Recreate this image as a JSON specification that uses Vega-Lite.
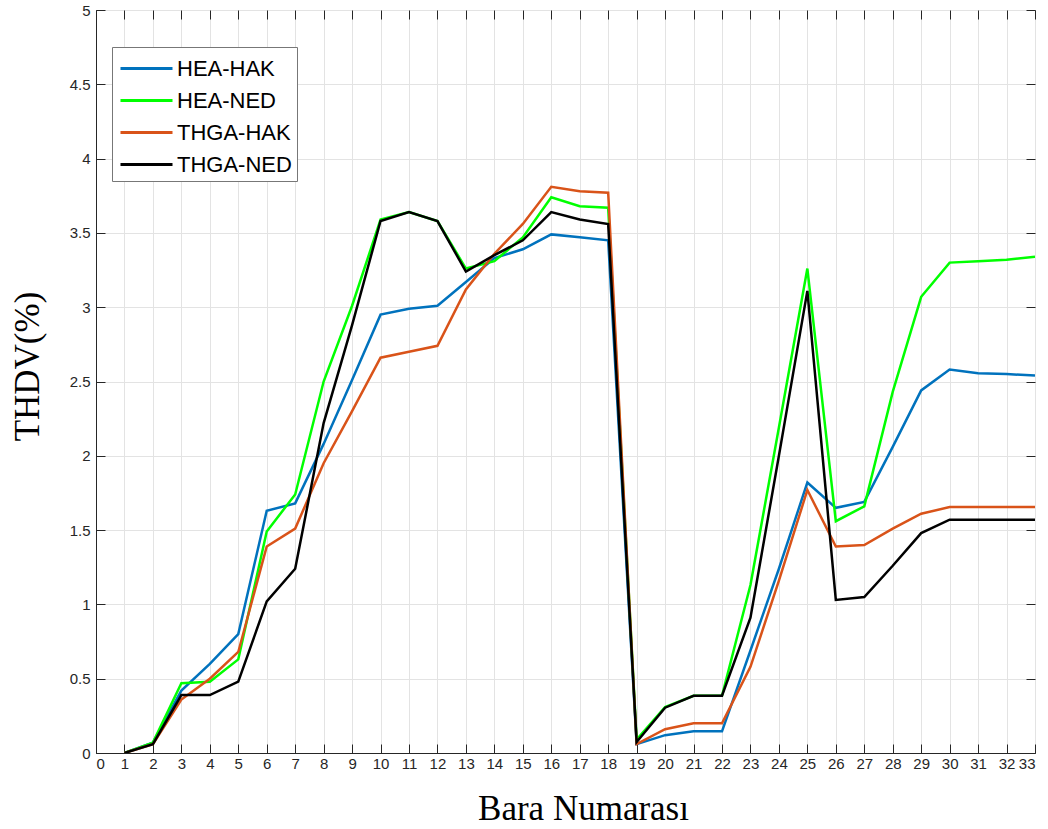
{
  "$schema": "https://vega.github.io/schema/vega-lite/v6.json",
  "width": 939,
  "height": 743,
  "autosize": "none",
  "padding": {"left": 96, "top": 10, "right": 13, "bottom": 76},
  "background": "white",
  "config": {
    "view": {"stroke": "#262626", "strokeWidth": 1},
    "axis": {
      "labelFont": "Liberation Sans",
      "labelFontSize": 15,
      "labelColor": "#262626",
      "domainColor": "#262626",
      "tickColor": "#262626",
      "gridColor": "#e3e3e3",
      "gridWidth": 1,
      "titleFont": "Liberation Serif",
      "titleFontWeight": "normal",
      "titleColor": "black",
      "titleFontSize": 35
    }
  },
  "data": {
    "values": [
      {"bara": 1, "HEA-HAK": 0, "HEA-NED": 0, "THGA-HAK": 0, "THGA-NED": 0},
      {"bara": 2, "HEA-HAK": 0.07, "HEA-NED": 0.07, "THGA-HAK": 0.06, "THGA-NED": 0.06},
      {"bara": 3, "HEA-HAK": 0.42, "HEA-NED": 0.47, "THGA-HAK": 0.36, "THGA-NED": 0.39},
      {"bara": 4, "HEA-HAK": 0.6, "HEA-NED": 0.48, "THGA-HAK": 0.5, "THGA-NED": 0.39},
      {"bara": 5, "HEA-HAK": 0.8, "HEA-NED": 0.63, "THGA-HAK": 0.68, "THGA-NED": 0.48},
      {"bara": 6, "HEA-HAK": 1.63, "HEA-NED": 1.49, "THGA-HAK": 1.39, "THGA-NED": 1.02},
      {"bara": 7, "HEA-HAK": 1.68, "HEA-NED": 1.74, "THGA-HAK": 1.51, "THGA-NED": 1.24},
      {"bara": 8, "HEA-HAK": 2.08, "HEA-NED": 2.5, "THGA-HAK": 1.95, "THGA-NED": 2.22},
      {"bara": 9, "HEA-HAK": 2.51, "HEA-NED": 3.01, "THGA-HAK": 2.3, "THGA-NED": 2.88},
      {"bara": 10, "HEA-HAK": 2.95, "HEA-NED": 3.59, "THGA-HAK": 2.66, "THGA-NED": 3.58},
      {"bara": 11, "HEA-HAK": 2.99, "HEA-NED": 3.64, "THGA-HAK": 2.7, "THGA-NED": 3.64},
      {"bara": 12, "HEA-HAK": 3.01, "HEA-NED": 3.58, "THGA-HAK": 2.74, "THGA-NED": 3.58},
      {"bara": 13, "HEA-HAK": 3.17, "HEA-NED": 3.26, "THGA-HAK": 3.12, "THGA-NED": 3.24},
      {"bara": 14, "HEA-HAK": 3.33, "HEA-NED": 3.31, "THGA-HAK": 3.36, "THGA-NED": 3.35},
      {"bara": 15, "HEA-HAK": 3.39, "HEA-NED": 3.47, "THGA-HAK": 3.56, "THGA-NED": 3.45},
      {"bara": 16, "HEA-HAK": 3.49, "HEA-NED": 3.74, "THGA-HAK": 3.81, "THGA-NED": 3.64},
      {"bara": 17, "HEA-HAK": 3.47, "HEA-NED": 3.68, "THGA-HAK": 3.78, "THGA-NED": 3.59},
      {"bara": 18, "HEA-HAK": 3.45, "HEA-NED": 3.67, "THGA-HAK": 3.77, "THGA-NED": 3.56},
      {"bara": 19, "HEA-HAK": 0.06, "HEA-NED": 0.09, "THGA-HAK": 0.06, "THGA-NED": 0.074},
      {"bara": 20, "HEA-HAK": 0.12, "HEA-NED": 0.31, "THGA-HAK": 0.16, "THGA-NED": 0.305},
      {"bara": 21, "HEA-HAK": 0.146, "HEA-NED": 0.385, "THGA-HAK": 0.2, "THGA-NED": 0.385},
      {"bara": 22, "HEA-HAK": 0.146, "HEA-NED": 0.385, "THGA-HAK": 0.2, "THGA-NED": 0.385},
      {"bara": 23, "HEA-HAK": 0.69, "HEA-NED": 1.13, "THGA-HAK": 0.58, "THGA-NED": 0.91},
      {"bara": 24, "HEA-HAK": 1.24, "HEA-NED": 2.19, "THGA-HAK": 1.16, "THGA-NED": 2.0},
      {"bara": 25, "HEA-HAK": 1.82, "HEA-NED": 3.26, "THGA-HAK": 1.77, "THGA-NED": 3.11},
      {"bara": 26, "HEA-HAK": 1.65, "HEA-NED": 1.56, "THGA-HAK": 1.39, "THGA-NED": 1.03},
      {"bara": 27, "HEA-HAK": 1.69, "HEA-NED": 1.66, "THGA-HAK": 1.4, "THGA-NED": 1.05},
      {"bara": 28, "HEA-HAK": 2.06, "HEA-NED": 2.43, "THGA-HAK": 1.51, "THGA-NED": 1.26},
      {"bara": 29, "HEA-HAK": 2.44, "HEA-NED": 3.07, "THGA-HAK": 1.61, "THGA-NED": 1.48},
      {"bara": 30, "HEA-HAK": 2.58, "HEA-NED": 3.3, "THGA-HAK": 1.655, "THGA-NED": 1.57},
      {"bara": 31, "HEA-HAK": 2.555, "HEA-NED": 3.31, "THGA-HAK": 1.655, "THGA-NED": 1.57},
      {"bara": 32, "HEA-HAK": 2.55, "HEA-NED": 3.32, "THGA-HAK": 1.655, "THGA-NED": 1.57},
      {"bara": 33, "HEA-HAK": 2.54, "HEA-NED": 3.34, "THGA-HAK": 1.655, "THGA-NED": 1.57}
    ]
  },
  "transform": [
    {"fold": ["HEA-HAK", "HEA-NED", "THGA-HAK", "THGA-NED"], "as": ["seri", "thdv"]}
  ],
  "resolve": {"axis": {"x": "independent", "y": "independent"}},
  "layer": [
    {
      "mark": {"type": "line", "opacity": 0},
      "encoding": {
        "x": {
          "field": "bara", "type": "quantitative",
          "scale": {"domain": [0, 33], "nice": false, "zero": false},
          "axis": {
            "orient": "top", "title": null, "labels": false, "grid": false, "domain": false,
            "values": [0,1,2,3,4,5,6,7,8,9,10,11,12,13,14,15,16,17,18,19,20,21,22,23,24,25,26,27,28,29,30,31,32,33],
            "tickSize": -9
          }
        },
        "y": {
          "field": "thdv", "type": "quantitative",
          "scale": {"domain": [0, 5], "nice": false},
          "axis": {
            "orient": "right", "title": null, "labels": false, "grid": false, "domain": false,
            "values": [0,0.5,1,1.5,2,2.5,3,3.5,4,4.5,5],
            "tickSize": -9
          }
        },
        "detail": {"field": "seri", "type": "nominal"}
      }
    },
    {
      "mark": {"type": "line", "strokeWidth": 2.5, "clip": true},
      "encoding": {
        "x": {
          "field": "bara", "type": "quantitative",
          "scale": {"domain": [0, 33], "nice": false, "zero": false},
          "axis": {
            "orient": "bottom",
            "title": "Bara Numarası", "values": [0,1,2,3,4,5,6,7,8,9,10,11,12,13,14,15,16,17,18,19,20,21,22,23,24,25,26,27,28,29,30,31,32,33],
            "format": "d", "tickSize": -9, "labelPadding": 12, "titlePadding": 20, "titleX": 487, "grid": true, "domain": true
          }
        },
        "y": {
          "field": "thdv", "type": "quantitative",
          "scale": {"domain": [0, 5], "nice": false},
          "axis": {
            "orient": "left",
            "title": "THDV(%)", "values": [0,0.5,1,1.5,2,2.5,3,3.5,4,4.5,5],
            "format": "~g", "tickSize": -9, "labelPadding": 15, "titlePadding": 24, "titleY": 356, "grid": true
          }
        },
        "color": {
          "field": "seri", "type": "nominal",
          "scale": {
            "domain": ["HEA-HAK", "HEA-NED", "THGA-HAK", "THGA-NED"],
            "range": ["#0072BD", "#00FF00", "#D95319", "#000000"]
          },
          "legend": {
            "title": null,
            "orient": "none",
            "legendX": 16,
            "legendY": 37,
            "symbolType": "M-0.867,0H2.6",
            "symbolSize": 900,
            "symbolStrokeWidth": 3,
            "labelFont": "Liberation Sans",
            "labelFontSize": 22,
            "labelColor": "black",
            "labelOffset": 27,
            "rowPadding": 4,
            "padding": 5,
            "strokeColor": "#777777",
            "fillColor": "white"
          }
        }
      }
    }
  ]
}
